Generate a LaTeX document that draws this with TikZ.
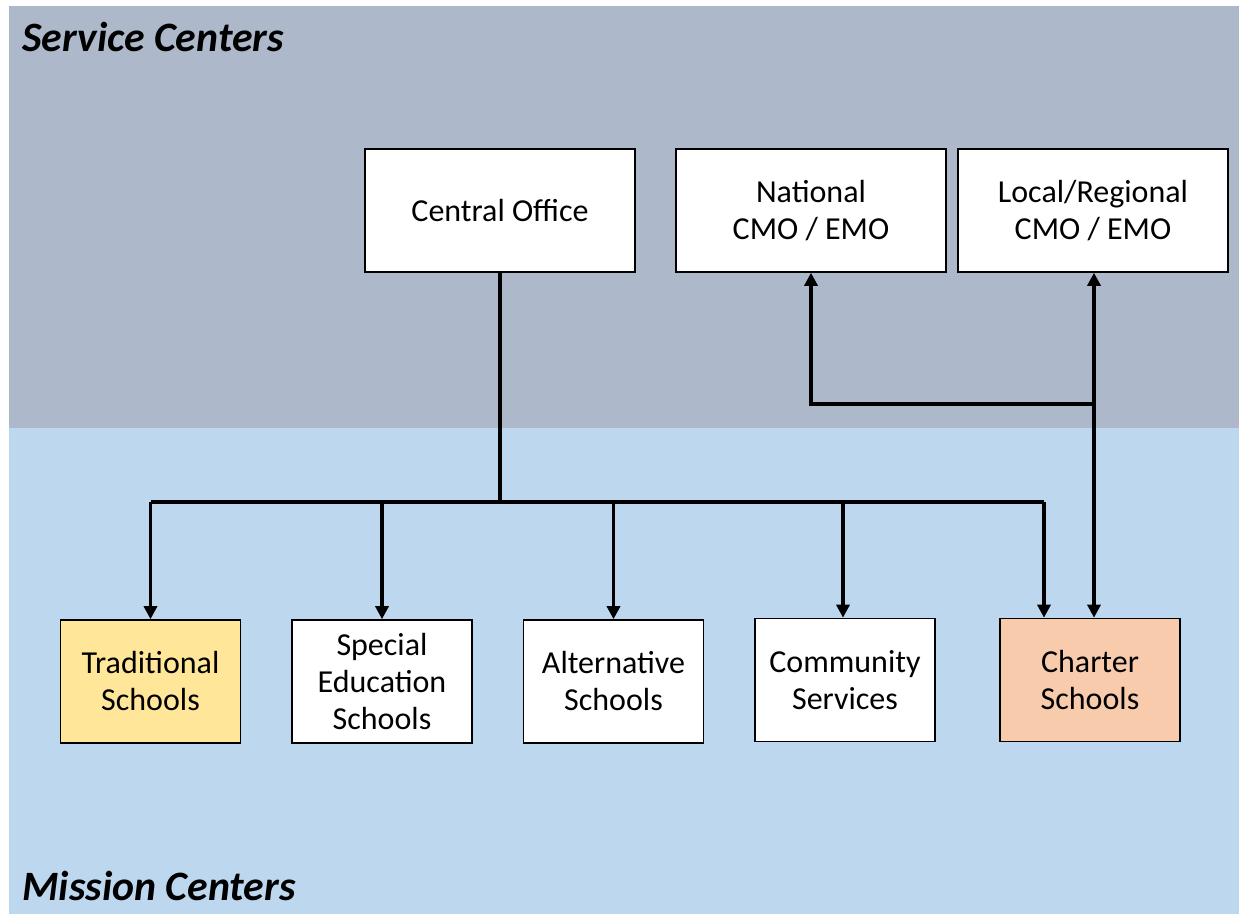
\documentclass[tikz,border=0pt]{standalone}
\usepackage{fontspec}
\setmainfont{Carlito}
\usetikzlibrary{arrows.meta}
\definecolor{servicebg}{HTML}{ADB9CA}
\definecolor{missionbg}{HTML}{BDD7EE}
\definecolor{tradfill}{HTML}{FFE699}
\definecolor{charterfill}{HTML}{F8CBAD}
\begin{document}
\begin{tikzpicture}[x=0.5pt,y=-0.5pt,
  box/.style={draw=black,line width=0.8pt,fill=white,inner sep=0pt,align=center,
    font=\fontsize{16}{18.5}\selectfont},
  topbox/.style={box,minimum width=135pt,minimum height=61.5pt},
  lowbox/.style={box,minimum width=90pt,minimum height=61.5pt},
  header/.style={anchor=base west,inner sep=0pt,font=\fontsize{20.9}{24}\selectfont\bfseries\itshape},
  conn/.style={line width=1.9pt,line join=miter},
  arr/.style={conn,-{Triangle[length=6.5pt,width=6.5pt]}}]
\useasboundingbox (0,0) rectangle (1239,914);
\fill[white] (0,0) rectangle (1239,914);
\fill[servicebg] (9,6) rectangle (1239,428);
\fill[missionbg] (9,428) rectangle (1239,914);
\node[header] (svc) at (22,51.5) {Service Centers};
\node[header] (msn) at (22,901) {Mission Centers};
% top boxes
\node[topbox] (co) at (500,210.5) {Central Office};
\node[topbox] (nat) at (811,210.5) {National\\CMO / EMO};
\node[topbox] (loc) at (1093,210.5) {Local/Regional\\CMO / EMO};
% bottom boxes
\node[lowbox,fill=tradfill] (trad) at (150.5,681.5) {Traditional\\Schools};
\node[lowbox] (sped) at (382,681.5) {Special\\Education\\Schools};
\node[lowbox] (alt) at (613.5,681.5) {Alternative\\Schools};
\node[lowbox] (comm) at (845,680) {Community\\Services};
\node[lowbox,fill=charterfill] (chart) at (1090,680) {Charter\\Schools};
% connectors
\coordinate (bus) at (500,502);
\coordinate (bl) at (150.5,502);
\coordinate (br) at (1044,502);
\coordinate (j) at (1094,404);
\draw[conn] (co.south) -- (bus);
\draw[conn] (bl) -- (br);
\draw[arr] (bl) -- (trad.north);
\draw[arr] (bus -| sped.north) -- (sped.north);
\draw[arr] (bus -| alt.north) -- (alt.north);
\draw[arr] (bus -| 843,0) -- (843,0 |- comm.north);
\draw[arr] (br) -- (br |- chart.north);
\draw[arr] (j) -- (j |- loc.south);
\draw[arr] (j) -- (j |- chart.north);
\draw[arr] (j) -| (nat.south);
\end{tikzpicture}
\end{document}
